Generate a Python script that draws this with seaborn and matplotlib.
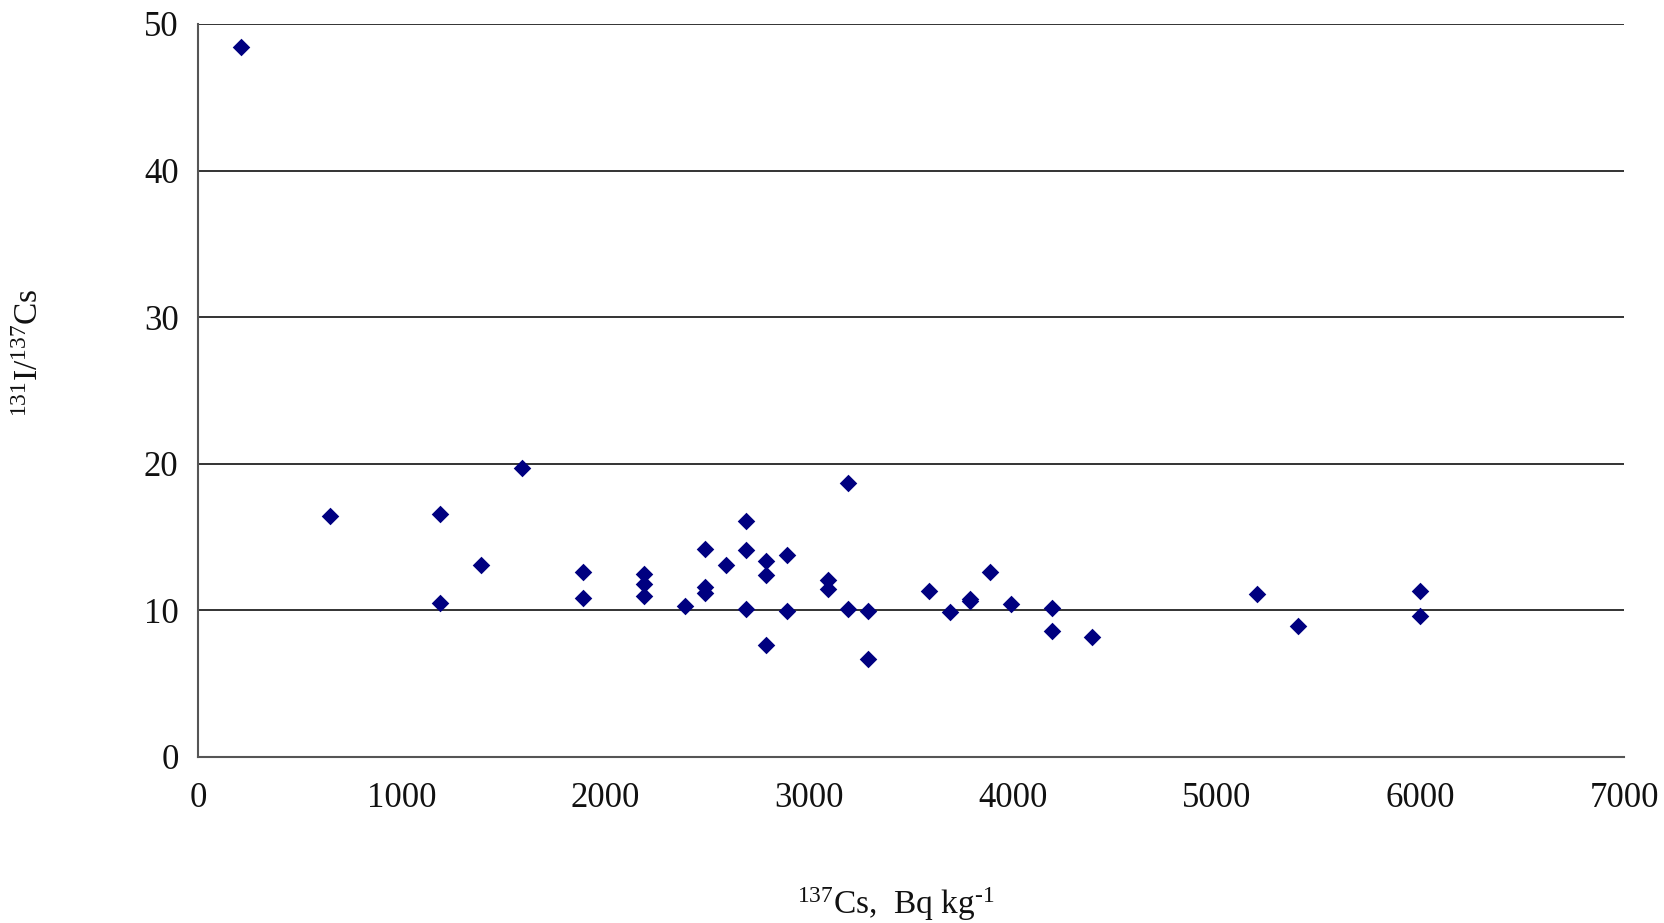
import numpy as np
import pandas as pd
import seaborn as sns
import matplotlib.pyplot as plt

# 137Cs activity (Bq/kg) and 131I/137Cs ratio
cs137 = [210, 650, 1190, 1190, 1390, 1590, 1890, 1890, 2190, 2190, 2190,
         2390, 2490, 2490, 2490, 2590, 2690, 2690, 2690, 2790, 2790, 2790,
         2890, 2890, 3090, 3090, 3190, 3190, 3290, 3290, 3590, 3690, 3790,
         3790, 3890, 3990, 4190, 4190, 4390, 5200, 5400, 6000, 6000]
ratio = [48.4, 16.4, 16.6, 10.5, 13.1, 19.7, 12.6, 10.85, 12.5, 11.8, 11.0,
         10.3, 14.2, 11.6, 11.15, 13.1, 16.1, 14.1, 10.1, 13.35, 12.4, 7.6,
         13.8, 9.95, 12.1, 11.45, 18.7, 10.1, 9.95, 6.65, 11.35, 9.85, 10.8,
         10.6, 12.6, 10.4, 10.15, 8.6, 8.15, 11.1, 8.9, 11.35, 9.6]
x_ticks = [0, 1000, 2000, 3000, 4000, 5000, 6000, 7000]
y_ticks = [0, 10, 20, 30, 40, 50]

df = pd.DataFrame({'cs': cs137, 'ratio': ratio})

sns.set_style('white')
plt.rcParams['font.family'] = ['Liberation Serif', 'DejaVu Serif']
plt.rcParams['mathtext.fontset'] = 'custom'
plt.rcParams['mathtext.rm'] = 'Liberation Serif'
plt.rcParams['mathtext.it'] = 'Liberation Serif:italic'

fig = plt.figure(figsize=(16.64, 9.23), dpi=100)
ax = fig.add_axes([0.119, 0.180, 0.857, 0.794])

sns.scatterplot(data=df, x='cs', y='ratio', marker='D', color='#000080',
                s=80, linewidth=0, ax=ax, zorder=3)

ax.set_xlim(0, 7000)
ax.set_ylim(0, 50)
ax.set_xticks(x_ticks)
ax.set_yticks(y_ticks)
ax.tick_params(axis='both', labelsize=25, colors='#111111', direction='out')
ax.tick_params(axis='x', length=10, width=1.2, color='#555555', pad=8)
ax.tick_params(axis='y', length=8, width=1.2, color='#555555', pad=6)

ax.yaxis.grid(True, color='#111111', linewidth=1.2)
ax.set_axisbelow(True)
for side in ['top', 'right']:
    ax.spines[side].set_visible(False)
for side in ['left', 'bottom']:
    ax.spines[side].set_color('#555555')
    ax.spines[side].set_linewidth(1.5)

ax.set_xlabel(r'$^{\mathrm{137}}$Cs,  Bq kg$^{\text{-1}}$', fontsize=24, color='#111111')
ax.set_ylabel(r'$^{\mathrm{131}}$I/$^{\mathrm{137}}$Cs', fontsize=24, color='#111111')
ax.xaxis.set_label_coords(0.489, -0.176)
ax.yaxis.set_label_coords(-0.107, 0.552)

fig.savefig('out.png', dpi=100)
